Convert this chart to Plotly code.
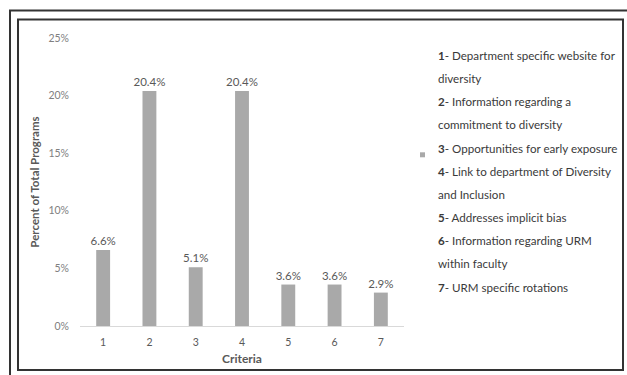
import plotly.graph_objects as go

categories = ["1", "2", "3", "4", "5", "6", "7"]
values = [6.6, 20.4, 5.1, 20.4, 3.6, 3.6, 2.9]
y_ticks = [0, 5, 10, 15, 20, 25]
y_tick_labels = ["0%", "5%", "10%", "15%", "20%", "25%"]
legend_lines = [
    ("1", "- Department specific website for"),
    (None, "diversity"),
    ("2", "- Information regarding a"),
    (None, "commitment to diversity"),
    ("3", "- Opportunities for early exposure"),
    ("4", "- Link to department of Diversity"),
    (None, "and Inclusion"),
    ("5", "- Addresses implicit bias"),
    ("6", "- Information regarding URM"),
    (None, "within faculty"),
    ("7", "- URM specific rotations"),
]

W, H = 627, 375
L, R = 80, 404
T, B = 37.5, 326
FONT = "Lato, Open Sans, sans-serif"

def px(x):
    return (x - L) / (R - L)

def py(y):
    return (B - y) / (B - T)

fig = go.Figure()
fig.add_trace(go.Bar(
    x=categories, y=values, width=0.3,
    marker=dict(color="#A9A9A9", line=dict(width=0)),
    text=[f"{v:.1f}%" for v in values], textposition="outside",
    constraintext="none",
    textfont=dict(family=FONT, size=11.5, color="#595959"),
    cliponaxis=False, showlegend=False,
))

shapes = []
# outer frame
shapes.append(dict(type="rect", xref="paper", yref="paper",
                   x0=px(10), x1=px(640), y0=py(390), y1=py(10),
                   line=dict(color="#333333", width=2)))
# inner frame
shapes.append(dict(type="rect", xref="paper", yref="paper",
                   x0=px(18), x1=px(623), y0=py(370), y1=py(19),
                   line=dict(color="#333333", width=2)))
# legend swatch
shapes.append(dict(type="rect", xref="paper", yref="paper",
                   x0=px(420), x1=px(425), y0=py(157), y1=py(152),
                   fillcolor="#A9A9A9", line=dict(width=0)))

annotations = []
y0 = 55
dy = 23.2
for i, (num, txt) in enumerate(legend_lines):
    t = (f"<b>{num}</b>" if num else "") + txt
    annotations.append(dict(xref="paper", yref="paper", x=px(436), y=py(y0 + i * dy),
                            text=t, showarrow=False, xanchor="left", yanchor="middle",
                            font=dict(family=FONT, size=11.6, color="#3a3a3a")))

fig.update_layout(
    width=W, height=H,
    margin=dict(l=L, r=W - R, t=T, b=H - B),
    paper_bgcolor="white", plot_bgcolor="white",
    bargap=0.7,
    shapes=shapes, annotations=annotations,
    xaxis=dict(showline=True, linecolor="#D9D9D9", linewidth=1, ticks="",
               ticklabelstandoff=6,
               tickfont=dict(family=FONT, size=10.5, color="#595959"),
               title=dict(text="<b>Criteria</b>", font=dict(family=FONT, size=12, color="#595959"), standoff=8)),
    yaxis=dict(range=[0, 25], tickvals=y_ticks, ticktext=y_tick_labels, showgrid=False,
               zeroline=False, showline=False, ticks="",
               ticklabelstandoff=10,
               tickfont=dict(family=FONT, size=10.5, color="#808080"),
               title=dict(text="<b>Percent of Total Programs</b>", font=dict(family=FONT, size=11.5, color="#595959"), standoff=6)),
)

fig.write_html("out.html")
